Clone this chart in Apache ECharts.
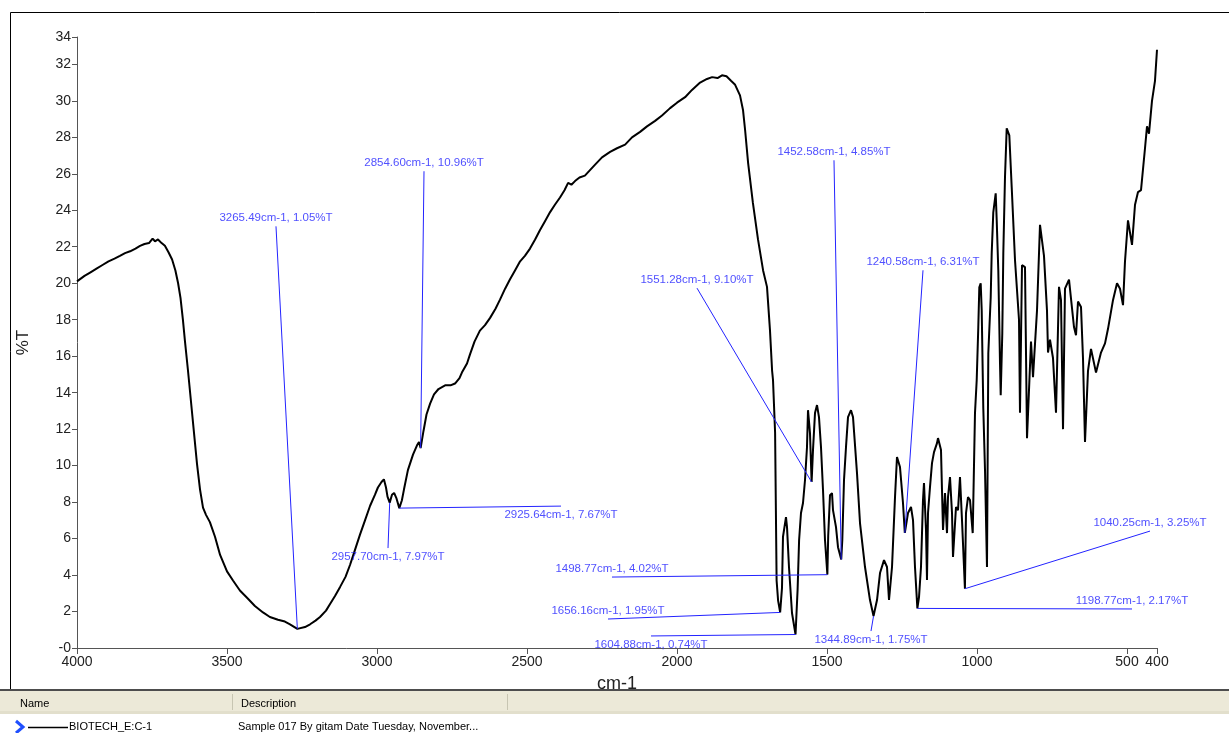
<!DOCTYPE html>
<html>
<head>
<meta charset="utf-8">
<script src="https://cdn.jsdelivr.net/npm/echarts@6/dist/echarts.min.js"></script>
<style>
  html, body { margin: 0; padding: 0; background: #ffffff; }
  #chart { width: 1229px; height: 733px; }
</style>
</head>
<body>
<div id="chart"></div>
<script>
// IR spectrum of sample BIOTECH_E:C-1, %T against wavenumber (cm-1)
const wavenumbers = [
  4000, 3975, 3955, 3935, 3915, 3895, 3875, 3857, 3840, 3823, 3805, 3790, 3775, 3760, 3748, 3740, 3730, 3718, 3707, 3695,
  3683, 3672, 3663, 3655, 3647, 3640, 3630, 3620, 3610, 3600, 3590, 3580, 3570, 3557, 3540, 3523, 3500, 3480, 3457, 3430,
  3407, 3380, 3357, 3330, 3307, 3290, 3265.49, 3240, 3223, 3205, 3190, 3170, 3157, 3140, 3123, 3105, 3090, 3075, 3057, 3040,
  3023, 3007, 2997, 2985, 2977, 2970, 2965, 2957.70, 2950, 2943, 2935, 2925.64, 2917, 2910, 2897, 2880, 2867, 2860, 2854.60, 2845,
  2835, 2823, 2810, 2795, 2773, 2755, 2740, 2725, 2717, 2700, 2690, 2675, 2657, 2640, 2623, 2605, 2590, 2573, 2557, 2540,
  2523, 2507, 2490, 2473, 2457, 2440, 2423, 2407, 2390, 2375, 2363, 2352, 2340, 2325, 2307, 2290, 2273, 2250, 2223, 2200,
  2173, 2150, 2123, 2100, 2073, 2050, 2023, 2000, 1973, 1950, 1923, 1900, 1883, 1865, 1850, 1835, 1820, 1807, 1790, 1780,
  1773, 1763, 1747, 1730, 1713, 1700, 1690, 1683, 1680, 1673, 1668, 1663, 1656.16, 1650, 1646.7, 1636.7, 1633.3, 1626.7, 1616.7, 1604.88,
  1598, 1593, 1586.7, 1580, 1573.3, 1566.7, 1563.3, 1556.7, 1551.28, 1546.7, 1540, 1533.3, 1526.7, 1520, 1513.3, 1506.7, 1498.77, 1496, 1490, 1483.3,
  1480, 1470, 1463.3, 1452.58, 1449, 1443.3, 1436.7, 1430, 1420, 1413.3, 1400, 1390, 1373.3, 1356.7, 1344.89, 1333.3, 1323.3, 1310, 1300, 1293.3,
  1283.3, 1273.3, 1266.7, 1256.7, 1246.7, 1240.58, 1230, 1220, 1213.3, 1206.7, 1198.77, 1193.3, 1186.7, 1180, 1176.7, 1170, 1166.7, 1163.3, 1156.7, 1150,
  1143.3, 1133.3, 1130, 1120, 1116.7, 1113.3, 1106.7, 1100, 1096.7, 1090, 1083.3, 1080, 1070, 1063.3, 1056.7, 1050, 1040.25, 1036.7, 1030, 1023.3,
  1014.3, 1006.7, 1001, 995.7, 992.3, 987.7, 984.3, 979, 973.3, 966.7, 962.3, 954.3, 951, 945.7, 937.7, 934.3, 929, 923.3, 921, 915.7,
  912.3, 906.7, 901, 892.3, 884.3, 873.3, 860, 856.7, 850, 840, 833.3, 820, 813.3, 800, 790, 776.7, 766.7, 763.3, 756.7, 746.7,
  736.7, 726.7, 720, 713.3, 706.7, 693.3, 676.7, 670, 663.3, 653.3, 646.7, 640, 630, 620, 603.3, 586.7, 573.3, 563.3, 546.7, 533.3,
  523.3, 513.3, 506.7, 496.7, 483.3, 473.3, 463.3, 453.3, 440, 433.3, 426.7, 416.7, 406.7, 400
];
const transmittance = [
  20.1, 20.4, 20.6, 20.8, 21.0, 21.2, 21.35, 21.5, 21.65, 21.75, 21.9, 22.05, 22.15, 22.2, 22.45, 22.3, 22.4, 22.2, 22.05, 21.7,
  21.3, 20.7, 20.0, 19.2, 18.0, 16.8, 15.2, 13.5, 11.8, 10.1, 8.7, 7.7, 7.3, 6.9, 6.1, 5.1, 4.2, 3.7, 3.15, 2.7,
  2.3, 1.95, 1.7, 1.55, 1.45, 1.3, 1.05, 1.15, 1.3, 1.5, 1.7, 2.05, 2.4, 2.85, 3.35, 3.9, 4.55, 5.3, 6.2, 7.0,
  7.8, 8.4, 8.8, 9.1, 9.25, 8.8, 8.3, 7.97, 8.4, 8.5, 8.2, 7.67, 8.1, 8.7, 9.75, 10.6, 11.1, 11.3, 10.96, 11.9,
  12.8, 13.4, 13.9, 14.2, 14.4, 14.4, 14.5, 14.8, 15.1, 15.6, 16.1, 16.8, 17.4, 17.7, 18.1, 18.6, 19.1, 19.7, 20.2, 20.7,
  21.2, 21.5, 21.9, 22.4, 22.9, 23.4, 23.9, 24.3, 24.7, 25.1, 25.5, 25.4, 25.6, 25.8, 25.9, 26.2, 26.5, 26.9, 27.2, 27.4,
  27.6, 28.0, 28.3, 28.6, 28.9, 29.2, 29.6, 29.9, 30.2, 30.6, 31.0, 31.2, 31.3, 31.25, 31.4, 31.35, 31.1, 30.9, 30.3, 29.5,
  28.4, 26.6, 24.4, 22.4, 20.7, 19.8, 17.4, 15.2, 14.7, 11.8, 3.7, 2.6, 1.95, 3.3, 6.1, 7.18, 6.63, 4.44, 1.92, 0.74,
  3.2, 5.92, 7.40, 7.95, 9.21, 11.01, 13.04, 11.78, 9.10, 10.85, 12.88, 13.32, 12.66, 11.01, 8.66, 5.92, 4.02, 6.14, 8.38, 8.49,
  7.56, 6.63, 5.53, 4.85, 5.92, 9.21, 11.01, 12.66, 13.04, 12.66, 9.59, 6.85, 4.44, 2.63, 1.75, 2.63, 4.11, 4.82, 4.44, 2.63,
  4.44, 8.27, 10.47, 9.92, 7.95, 6.31, 7.40, 7.73, 7.01, 4.44, 2.17, 2.79, 4.44, 8.11, 9.04, 6.47, 3.73, 7.40, 8.82, 10.14,
  10.74, 11.23, 11.51, 10.85, 8.66, 6.47, 8.49, 6.30, 8.27, 9.37, 7.40, 4.99, 7.73, 7.56, 9.37, 7.01, 3.25, 7.40, 8.27, 8.11,
  6.30, 12.88, 14.68, 17.59, 19.78, 20.0, 18.52, 13.15, 9.75, 4.44, 16.16, 19.23, 21.64, 23.89, 24.93, 23.45, 20.71, 15.62, 13.86, 17.26,
  21.64, 25.81, 28.49, 28.11, 25.26, 21.26, 18.0, 12.9, 20.99, 20.88, 11.5, 16.8, 14.85, 18.5, 23.2, 21.5, 18.5, 16.2, 16.9, 15.9,
  12.9, 19.8, 19.07, 12.0, 19.7, 20.2, 17.6, 17.15, 19.0, 18.7, 15.9, 11.3, 15.2, 16.4, 15.1, 16.2, 16.7, 17.5, 19.07, 20.0,
  19.7, 18.8, 21.2, 23.45, 22.1, 24.3, 25.0, 25.1, 27.4, 28.6, 28.2, 30.0, 31.1, 32.8
];

// Axis ticks and their labels
const xTickValues = [4000, 3500, 3000, 2500, 2000, 1500, 1000, 500, 400];
const yTickValues = [0, 2, 4, 6, 8, 10, 12, 14, 16, 18, 20, 22, 24, 26, 28, 30, 32, 33.5];
const yTickLabels = ['-0', '2', '4', '6', '8', '10', '12', '14', '16', '18', '20', '22', '24', '26', '28', '30', '32', '34'];

// Picked peaks: wavenumber and %T
const peakWavenumbers = [3265.49, 2854.60, 2957.70, 2925.64, 1656.16, 1604.88, 1551.28, 1498.77, 1452.58, 1344.89, 1240.58, 1198.77, 1040.25];
const peakTransmittance = [1.05, 10.96, 7.97, 7.67, 1.95, 0.74, 9.10, 4.02, 4.85, 1.75, 6.31, 2.17, 3.25];

// Where each peak label sits (axis units) and which side of the leader end it goes
const labelAnchors = [
  [3336.7, 23.12, 'top'], [2843.3, 26.14, 'top'], [2963.3, 5.48, 'bottom'], [2386.7, 7.78, 'bottom'],
  [2230.0, 1.59, 'top'], [2086.7, 0.66, 'bottom'], [1933.3, 19.73, 'top'], [2216.7, 3.89, 'top'],
  [1476.7, 26.74, 'top'], [1353.3, 0.93, 'bottom'], [1180.0, 20.71, 'top'], [483.3, 2.14, 'top'],
  [423.3, 6.41, 'top']
];

const AXIS_FONT = '"Liberation Sans", Arial, sans-serif';
const PEAK_BLUE = '#2323ff';

const spectrum = wavenumbers.map((w, i) => [w, transmittance[i]]);
const peakLabel = i => peakWavenumbers[i].toFixed(2) + 'cm-1, ' + peakTransmittance[i].toFixed(2) + '%T';

const chart = echarts.init(document.getElementById('chart'), null, { renderer: 'canvas' });

chart.setOption({
  animation: false,
  backgroundColor: '#ffffff',
  grid: { left: 77, right: 72, top: 37, bottom: 85, containLabel: false },
  xAxis: {
    type: 'value',
    inverse: true,
    min: 400,
    max: 4000,
    name: 'cm-1',
    nameLocation: 'middle',
    nameGap: 27,
    nameTextStyle: { fontFamily: AXIS_FONT, fontSize: 18, color: '#222' },
    axisLine: { show: true, lineStyle: { color: '#555', width: 1 } },
    axisTick: { show: true, length: 6, lineStyle: { color: '#555' }, customValues: xTickValues },
    axisLabel: {
      show: true, margin: 7, fontFamily: AXIS_FONT, fontSize: 14, color: '#222',
      customValues: xTickValues, showMinLabel: true, showMaxLabel: true,
      formatter: v => String(v)
    },
    splitLine: { show: false }
  },
  yAxis: {
    type: 'value',
    min: 0,
    max: 33.5,
    name: '%T',
    nameLocation: 'middle',
    nameGap: 45,
    nameRotate: 90,
    nameTextStyle: { fontFamily: AXIS_FONT, fontSize: 17, color: '#222' },
    axisLine: { show: true, lineStyle: { color: '#555', width: 1 } },
    axisTick: { show: true, length: 5, lineStyle: { color: '#555' }, customValues: yTickValues },
    axisLabel: {
      show: true, margin: 6, fontFamily: AXIS_FONT, fontSize: 14, color: '#222',
      customValues: yTickValues,
      formatter: v => {
        const k = yTickValues.indexOf(v);
        return k >= 0 ? yTickLabels[k] : '';
      }
    },
    splitLine: { show: false }
  },
  series: [
    {
      type: 'line',
      data: spectrum,
      showSymbol: false,
      symbol: 'none',
      lineStyle: { color: '#000000', width: 2 },
      z: 2,
      silent: true
    },
    {
      type: 'lines',
      coordinateSystem: 'cartesian2d',
      data: peakWavenumbers.map((w, i) => ({
        coords: [[w, peakTransmittance[i]], [labelAnchors[i][0], labelAnchors[i][1]]]
      })),
      lineStyle: { color: PEAK_BLUE, width: 1, opacity: 1 },
      symbol: ['none', 'none'],
      clip: false,
      silent: true,
      z: 3
    },
    {
      type: 'scatter',
      data: labelAnchors.map((a, i) => ({
        value: [a[0], a[1]],
        label: { position: a[2] }
      })),
      symbolSize: 1,
      itemStyle: { color: 'rgba(0,0,0,0)' },
      clip: false,
      silent: true,
      z: 4,
      label: {
        show: true,
        distance: 2,
        fontFamily: AXIS_FONT,
        fontSize: 11.5,
        color: PEAK_BLUE,
        formatter: p => peakLabel(p.dataIndex)
      }
    }
  ],
  graphic: [
    // outer frame of the plot pane
    { type: 'line', shape: { x1: 10.5, y1: 12.5, x2: 10.5, y2: 690 }, style: { stroke: '#000', lineWidth: 1 }, silent: true },
    { type: 'line', shape: { x1: 10.5, y1: 12.5, x2: 1229, y2: 12.5 }, style: { stroke: '#000', lineWidth: 1 }, silent: true },
    // sample list pane
    { type: 'rect', shape: { x: 0, y: 689, width: 1229, height: 2 }, style: { fill: '#4d4d4d' }, silent: true },
    { type: 'rect', shape: { x: 0, y: 691, width: 1229, height: 23 }, style: { fill: '#ECE9D8' }, silent: true },
    { type: 'rect', shape: { x: 0, y: 711, width: 1229, height: 3 }, style: { fill: '#E2DFCC' }, silent: true },
    { type: 'line', shape: { x1: 232.5, y1: 694, x2: 232.5, y2: 710 }, style: { stroke: '#C7C5B2', lineWidth: 1 }, silent: true },
    { type: 'line', shape: { x1: 507.5, y1: 694, x2: 507.5, y2: 710 }, style: { stroke: '#C7C5B2', lineWidth: 1 }, silent: true },
    { type: 'text', x: 20, y: 704, style: { text: 'Name', fontFamily: AXIS_FONT, fontSize: 11, fill: '#000', verticalAlign: 'middle' }, silent: true },
    { type: 'text', x: 241, y: 704, style: { text: 'Description', fontFamily: AXIS_FONT, fontSize: 11, fill: '#000', verticalAlign: 'middle' }, silent: true },
    { type: 'polyline', shape: { points: [[16, 721], [23, 727], [16, 733]] }, style: { stroke: '#1f4fff', lineWidth: 3, fill: null }, silent: true },
    { type: 'line', shape: { x1: 28, y1: 727.5, x2: 68, y2: 727.5 }, style: { stroke: '#000', lineWidth: 1.5 }, silent: true },
    { type: 'text', x: 69, y: 727, style: { text: 'BIOTECH_E:C-1', fontFamily: AXIS_FONT, fontSize: 11, fill: '#000', verticalAlign: 'middle' }, silent: true },
    { type: 'text', x: 238, y: 727, style: { text: 'Sample 017 By gitam Date Tuesday, November...', fontFamily: AXIS_FONT, fontSize: 11, fill: '#000', verticalAlign: 'middle' }, silent: true }
  ]
});
</script>
</body>
</html>
